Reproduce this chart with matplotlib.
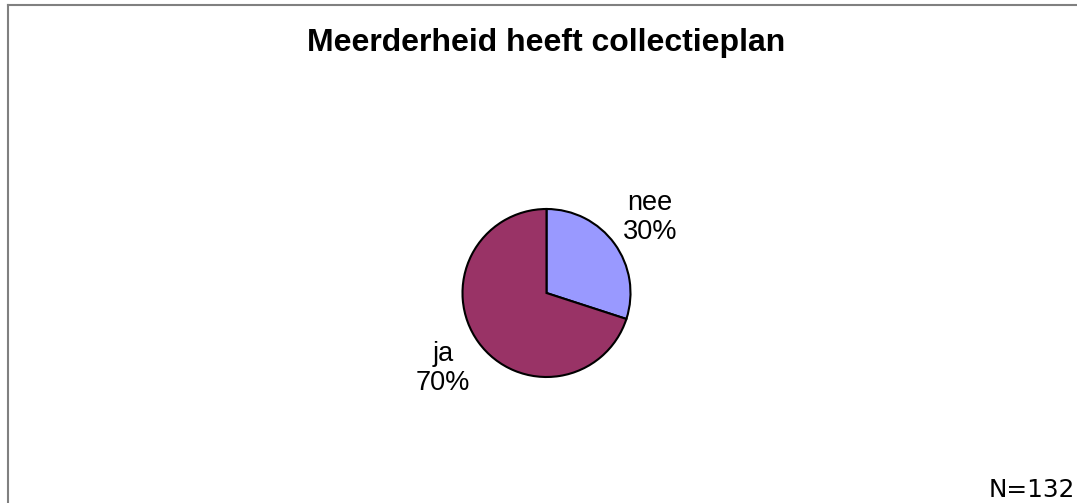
import matplotlib
matplotlib.use('Agg')
import matplotlib.pyplot as plt
from matplotlib.lines import Line2D

# data
categories = ['nee', 'ja']
values = [30, 70]
colors = ['#9999FF', '#993366']
title = 'Meerderheid heeft collectieplan'
note = 'N=132'

W, H = 1077, 503
fig = plt.figure(figsize=(W / 100, H / 100), dpi=100)
fig.patch.set_facecolor('white')

# border (only top and left visible, rest cut off)
fig.add_artist(Line2D([7.5 / W, 1.0], [1 - 4.5 / H, 1 - 4.5 / H], color='#808080', lw=1.5))
fig.add_artist(Line2D([7.5 / W, 7.5 / W], [0, 1 - 4.5 / H], color='#808080', lw=1.5))

# pie axes: 1 data unit = 84 px
r = 84
cx, cy = 546.5, 293
half = 1.1 * r
ax = fig.add_axes([(cx - half) / W, (H - cy - half) / H, 2 * half / W, 2 * half / H])

labels = ['%s\n%d%%' % (c, v) for c, v in zip(categories, values)]
wedges, texts = ax.pie(values, labels=labels, colors=colors, startangle=90,
                       counterclock=False, labeldistance=1.52,
                       wedgeprops=dict(edgecolor='black', linewidth=1.5),
                       textprops=dict(fontsize=19.5, family='Liberation Sans', color='black'))
for t in texts:
    t.set_ha('center')
    t.set_va('center')
    t.set_linespacing(1.15)
ax.set_xlim(-1.1, 1.1)
ax.set_ylim(-1.1, 1.1)
ax.axis('off')

fig.text(546 / W, 1 - 43 / H, title, ha='center', va='center',
         fontsize=23, fontweight='bold', family='Liberation Sans')
fig.text(989 / W, 1 - 497 / H, note, ha='left', va='baseline',
         fontsize=17.8, family='DejaVu Sans')

fig.savefig('out.png', dpi=100)
